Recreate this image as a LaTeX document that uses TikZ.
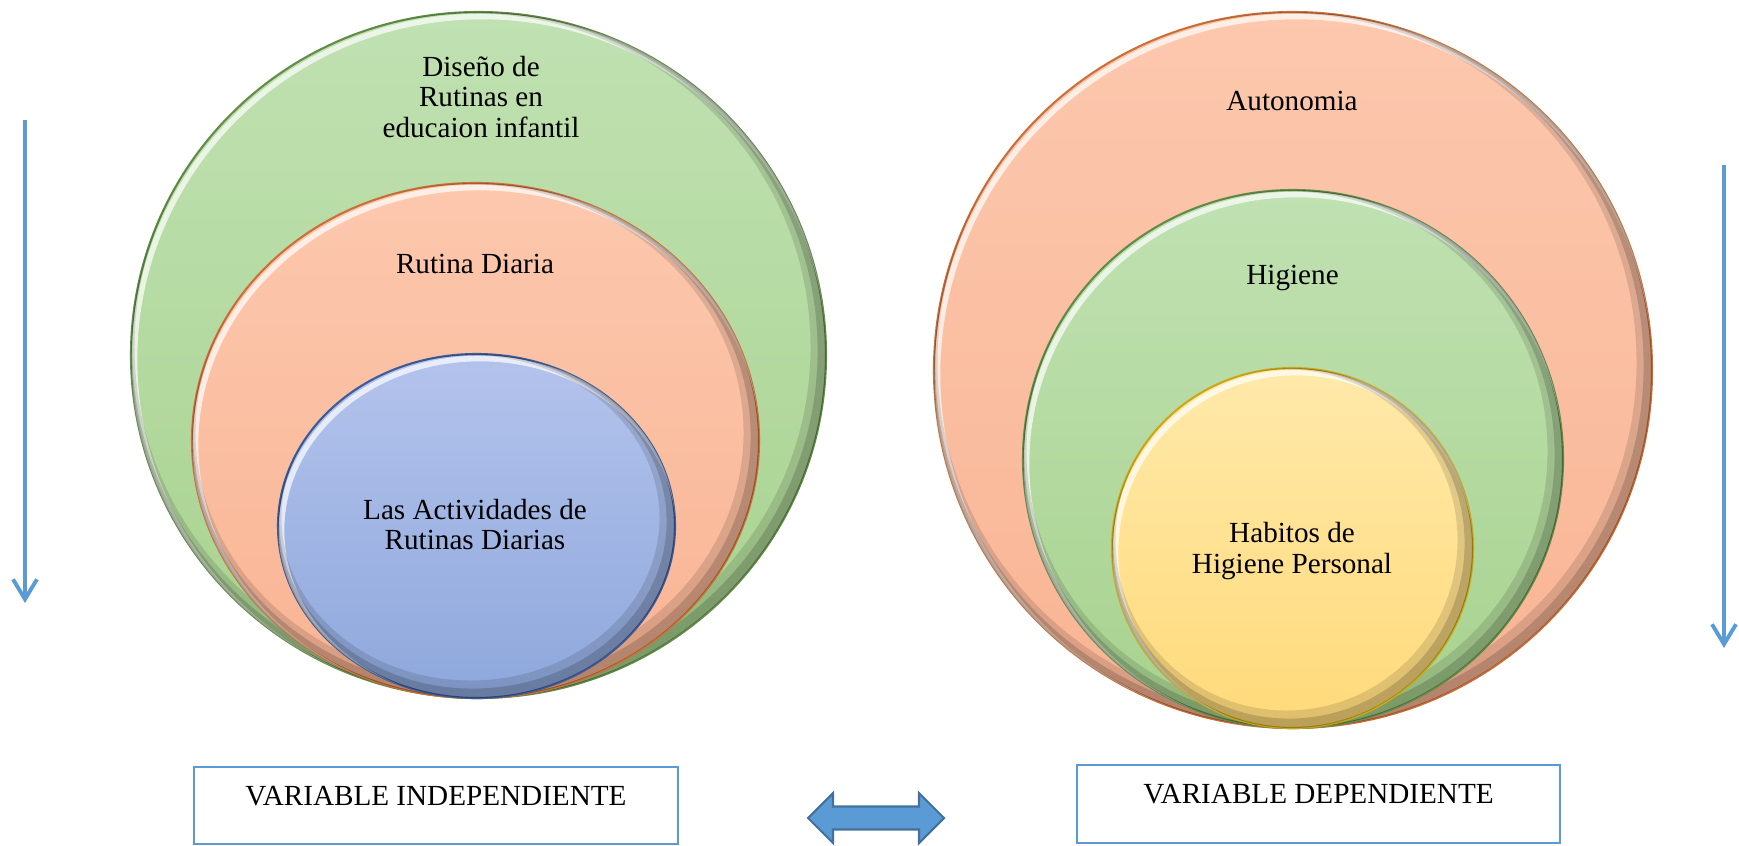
\documentclass[tikz,border=0pt]{standalone}
\usepackage{fontspec}
\setmainfont{Liberation Serif}
\usepackage{tikz}
\usetikzlibrary{arrows.meta}
\usepackage{xcolor}

\definecolor{greenTop}{RGB}{192,225,178}
\definecolor{greenBot}{RGB}{168,210,142}
\definecolor{greenEdge}{RGB}{98,140,72}
\definecolor{peachTop}{RGB}{252,200,174}
\definecolor{peachBot}{RGB}{249,180,148}
\definecolor{peachEdge}{RGB}{204,112,58}
\definecolor{blueTop}{RGB}{180,195,236}
\definecolor{blueBot}{RGB}{142,168,220}
\definecolor{blueEdge}{RGB}{62,92,152}
\definecolor{yellowTop}{RGB}{255,233,170}
\definecolor{yellowBot}{RGB}{255,218,122}
\definecolor{yellowEdge}{RGB}{204,168,24}
\definecolor{lineBlue}{RGB}{91,155,213}
\definecolor{arrowEdge}{RGB}{65,113,156}

\tikzset{
  rim/.style={line width=0.6pt},
  shine/.style={white, opacity=.7, line width=1.6pt, shift={(0.035,-0.045)}},
  softshade/.style={black, opacity=.12, line width=5.4pt, shift={(-0.06,0.08)}},
  innershade/.style={black, opacity=.16, line width=2.8pt, shift={(-0.035,0.045)}},
  circtext/.style={align=center, inner sep=0pt},
  varbox/.style={draw=lineBlue, line width=0.8pt, minimum height=0.77cm,
                 text height=2mm, text depth=2.1mm},
  downarrow/.style={lineBlue, line width=1.1pt, -{Straight Barb[length=2mm,width=2.4mm]}}
}

\begin{document}
\begin{tikzpicture}[font=\fontsize{8.3}{8.7}\selectfont]
  \useasboundingbox (0,0) rectangle (17.39,8.45);

  % left group
  \draw[rim, draw=greenEdge, top color=greenTop, bottom color=greenBot] (4.785,4.90) ellipse (3.475 and 3.43);
  \begin{scope}
    \clip (4.785,4.90) ellipse (3.475 and 3.43);
    \draw[shine] (4.785,4.90) ellipse (3.475 and 3.43);
    \draw[softshade] (4.785,4.90) ellipse (3.475 and 3.43);
    \draw[innershade] (4.785,4.90) ellipse (3.475 and 3.43);
  \end{scope}

  \draw[rim, draw=peachEdge, top color=peachTop, bottom color=peachBot] (4.755,4.045) ellipse (2.835 and 2.575);
  \begin{scope}
    \clip (4.755,4.045) ellipse (2.835 and 2.575);
    \draw[shine] (4.755,4.045) ellipse (2.835 and 2.575);
    \draw[softshade] (4.755,4.045) ellipse (2.835 and 2.575);
    \draw[innershade] (4.755,4.045) ellipse (2.835 and 2.575);
  \end{scope}

  \draw[rim, draw=blueEdge, top color=blueTop, bottom color=blueBot] (4.765,3.19) ellipse (1.985 and 1.72);
  \begin{scope}
    \clip (4.765,3.19) ellipse (1.985 and 1.72);
    \draw[shine] (4.765,3.19) ellipse (1.985 and 1.72);
    \draw[softshade] (4.765,3.19) ellipse (1.985 and 1.72);
    \draw[innershade] (4.765,3.19) ellipse (1.985 and 1.72);
  \end{scope}

  \node[circtext] (design) at (4.81,7.48) {Diseño de\\Rutinas en\\educaion infantil};
  \node[circtext, anchor=base] (daily) at (4.75,5.72) {Rutina Diaria};
  \node[circtext] (tasks) at (4.75,3.205) {Las Actividades de\\Rutinas Diarias};

  % right group
  \draw[rim, draw=peachEdge, top color=peachTop, bottom color=peachBot] (12.93,4.75) ellipse (3.59 and 3.58);
  \begin{scope}
    \clip (12.93,4.75) ellipse (3.59 and 3.58);
    \draw[shine] (12.93,4.75) ellipse (3.59 and 3.58);
    \draw[softshade] (12.93,4.75) ellipse (3.59 and 3.58);
    \draw[innershade] (12.93,4.75) ellipse (3.59 and 3.58);
  \end{scope}

  \draw[rim, draw=greenEdge, top color=greenTop, bottom color=greenBot] (12.93,3.86) ellipse (2.70 and 2.69);
  \begin{scope}
    \clip (12.93,3.86) ellipse (2.70 and 2.69);
    \draw[shine] (12.93,3.86) ellipse (2.70 and 2.69);
    \draw[softshade] (12.93,3.86) ellipse (2.70 and 2.69);
    \draw[innershade] (12.93,3.86) ellipse (2.70 and 2.69);
  \end{scope}

  \draw[rim, draw=yellowEdge, top color=yellowTop, bottom color=yellowBot] (12.925,2.97) ellipse (1.805 and 1.80);
  \begin{scope}
    \clip (12.925,2.97) ellipse (1.805 and 1.80);
    \draw[shine] (12.925,2.97) ellipse (1.805 and 1.80);
    \draw[softshade] (12.925,2.97) ellipse (1.805 and 1.80);
    \draw[innershade] (12.925,2.97) ellipse (1.805 and 1.80);
  \end{scope}

  \node[circtext, anchor=base] (autonomy) at (12.92,7.35) {Autonomia};
  \node[circtext, anchor=base] (hygiene) at (12.925,5.61) {Higiene};
  \node[circtext] (habits) at (12.92,2.94) {Habitos de\\Higiene Personal};

  % side arrows
  \coordinate (ltop) at (0.25,7.25);
  \coordinate (lbot) at (0.25,2.42);
  \draw[downarrow] (ltop) -- (lbot);
  \coordinate (rtop) at (17.24,6.80);
  \coordinate (rbot) at (17.24,1.97);
  \draw[downarrow] (rtop) -- (rbot);

  % variable boxes
  \node[varbox, minimum width=4.84cm] (indep) at (4.36,0.395) {VARIABLE INDEPENDIENTE};
  \node[varbox, minimum width=4.83cm, minimum height=0.78cm] (dep) at (13.185,0.41) {VARIABLE DEPENDIENTE};

  % double arrow between them
  \draw[fill=lineBlue, draw=arrowEdge, line width=0.6pt]
    (8.08,0.27) -- (8.33,0.52) -- (8.33,0.385) -- (9.19,0.385) -- (9.19,0.52) -- (9.44,0.27)
    -- (9.19,0.02) -- (9.19,0.155) -- (8.33,0.155) -- (8.33,0.02) -- cycle;
\end{tikzpicture}
\end{document}
